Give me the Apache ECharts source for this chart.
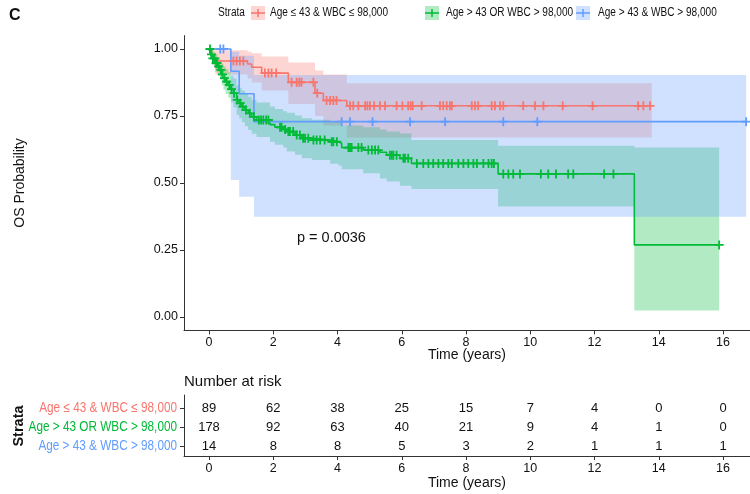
<!DOCTYPE html>
<html><head><meta charset="utf-8">
<script src="https://cdn.jsdelivr.net/npm/echarts@6/dist/echarts.min.js"></script>
<style>html,body{margin:0;padding:0;background:#fff}#c{width:750px;height:494px}</style>
</head><body><div id="c"></div>
<script>
// ---- data ----
const strataNames = ['Age ≤ 43 & WBC ≤ 98,000', 'Age > 43 OR WBC > 98,000', 'Age > 43 & WBC > 98,000'];
const lineColors = ['#F8766D', '#00BA38', '#619CFF'];

const redTime  = [0, 0.05, 0.10, 0.15, 0.20, 1.20, 1.33, 1.64, 2.47, 3.30, 3.56, 4.29];
const redSurv  = [1, 0.989, 0.978, 0.966, 0.955, 0.944, 0.932, 0.910, 0.876, 0.835, 0.808, 0.788];
const redLower = [1, 0.97, 0.95, 0.93, 0.905, 0.89, 0.875, 0.845, 0.795, 0.75, 0.715, 0.67];
const redUpper = [1, 1, 1, 1, 0.995, 0.99, 0.984, 0.972, 0.95, 0.92, 0.905, 0.872];
const redEnd = 13.78;
const redCensor = [0.76, 0.86, 0.96, 1.07, 1.74, 1.85, 1.95, 2.09, 2.57, 2.73, 2.81, 2.88, 3.25, 3.37, 3.66, 3.77, 3.87, 3.97,
  4.39, 4.49, 4.65, 4.86, 4.93, 5.01, 5.14, 5.32, 5.48, 5.84, 6.02, 6.20, 6.28, 6.34, 6.62, 7.19, 7.29, 7.40, 7.50, 7.56,
  8.18, 8.28, 8.38, 8.80, 8.90, 9.06, 9.16, 9.78, 10.15, 10.41, 11.01, 11.94, 13.36, 13.52, 13.73];

const greenTime  = [0, 0.05, 0.10, 0.19, 0.27, 0.34, 0.40, 0.45, 0.52, 0.60, 0.68, 0.76, 0.86, 0.94, 1.02, 1.12, 1.22, 1.33, 1.48, 1.90,
  2.05, 2.31, 2.42, 2.68, 2.89, 3.20, 3.77, 4.03, 4.13, 4.80, 5.32, 5.53, 5.94, 6.30, 9.00, 13.24];
const greenSurv  = [1, 0.98, 0.965, 0.947, 0.935, 0.922, 0.905, 0.891, 0.878, 0.866, 0.85, 0.835, 0.81, 0.798, 0.785, 0.772, 0.760, 0.747, 0.735, 0.718,
  0.708, 0.700, 0.692, 0.679, 0.667, 0.660, 0.654, 0.648, 0.632, 0.623, 0.615, 0.604, 0.592, 0.573, 0.534, 0.269];
const greenLower = [1, 0.96, 0.94, 0.915, 0.90, 0.885, 0.865, 0.848, 0.832, 0.818, 0.80, 0.782, 0.755, 0.742, 0.727, 0.712, 0.698, 0.684, 0.672, 0.654,
  0.643, 0.632, 0.618, 0.605, 0.592, 0.586, 0.572, 0.565, 0.551, 0.536, 0.517, 0.506, 0.490, 0.478, 0.412, 0.024];
const greenUpper = [1, 1, 0.99, 0.98, 0.97, 0.96, 0.945, 0.935, 0.925, 0.915, 0.90, 0.89, 0.865, 0.855, 0.845, 0.832, 0.822, 0.81, 0.80, 0.785,
  0.776, 0.768, 0.762, 0.752, 0.742, 0.736, 0.73, 0.725, 0.715, 0.708, 0.70, 0.692, 0.685, 0.66, 0.639, 0.632];
const greenEnd = 15.88;
const greenCensor = [0.03, 0.08, 0.12, 0.17, 0.22, 0.25, 0.30, 0.37, 0.42, 0.48, 0.55, 0.63, 0.70, 0.78, 0.88, 0.97, 1.05, 1.15, 1.27, 1.40,
  1.55, 1.62, 1.69, 1.78, 1.85, 2.21, 2.26, 2.37, 2.47, 2.52, 2.62, 2.73, 2.83, 2.93, 2.99, 3.09, 3.25, 3.35, 3.46, 3.60, 3.82, 3.87, 3.98,
  4.34, 4.39, 4.44, 4.65, 4.75, 4.96, 5.07, 5.17, 5.27, 5.63, 5.69, 5.74, 5.84, 6.05, 6.10, 6.20, 6.47, 6.67, 6.83, 6.98, 7.14, 7.29,
  7.45, 7.56, 7.76, 7.92, 8.07, 8.23, 8.34, 8.54, 8.70, 8.80, 8.87, 9.16, 9.32, 9.47, 9.68, 10.33, 10.56, 10.80, 11.18, 11.34,
  12.30, 12.59, 15.88];

const blueTime  = [0, 0.68, 0.94, 1.40];
const blueSurv  = [1, 0.917, 0.833, 0.729];
const blueLower = [1, 0.511, 0.449, 0.374];
const blueUpper = [1, 0.99, 0.975, 0.903];
const blueEnd = 16.72;
const blueCensor = [0.35, 0.45, 4.13, 4.39, 5.09, 6.26, 7.35, 9.16, 10.22, 16.72];

const xTicks = [0, 2, 4, 6, 8, 10, 12, 14, 16];
const yTicks = [0, 0.25, 0.5, 0.75, 1];
const riskTimes = [0, 2, 4, 6, 8, 10, 12, 14, 16];
const riskRed   = [89, 62, 38, 25, 15, 7, 4, 0, 0];
const riskGreen = [178, 92, 63, 40, 21, 9, 4, 1, 0];
const riskBlue  = [14, 8, 8, 5, 3, 2, 1, 1, 1];
const pText = 'p = 0.0036';

// ---- helpers ----
const FONT = "'Liberation Sans', Arial, sans-serif";
const NARROW_SCALE = 0.84;
function rgba(hex, a) {
  const n = parseInt(hex.slice(1), 16);
  return 'rgba(' + (n >> 16 & 255) + ',' + (n >> 8 & 255) + ',' + (n & 255) + ',' + a + ')';
}
function stepData(times, surv, end) {
  const d = times.map((t, i) => [t, surv[i]]);
  d.push([end, surv[surv.length - 1]]);
  return d;
}
function survAt(times, surv, t) {
  let k = 0;
  for (let i = 0; i < times.length; i++) if (times[i] <= t) k = i;
  return surv[k];
}
function bandSeries(times, lo, hi, end, color, z) {
  return {
    type: 'custom', xAxisIndex: 0, yAxisIndex: 0, silent: true, z: z, clip: true,
    data: [[0, 0]], encode: { x: 0, y: 1 },
    renderItem: function (params, api) {
      const up = [], dn = [];
      for (let i = 0; i < times.length; i++) {
        const t1 = i + 1 < times.length ? times[i + 1] : end;
        up.push(api.coord([times[i], hi[i]]), api.coord([t1, hi[i]]));
        dn.push(api.coord([times[i], lo[i]]), api.coord([t1, lo[i]]));
      }
      return { type: 'polygon', shape: { points: up.concat(dn.reverse()) }, style: { fill: rgba(color, 0.3), stroke: null } };
    }
  };
}
function lineSeries(times, surv, end, color) {
  return {
    type: 'line', xAxisIndex: 0, yAxisIndex: 0, step: 'end', data: stepData(times, surv, end),
    showSymbol: false, symbol: 'none', lineStyle: { color: color, width: 1.6 }, z: 5, silent: true
  };
}
const PLUS = 'path://M4,0H6V4H10V6H6V10H4V6H0V4H4Z';
function censorSeries(times, surv, cens, color) {
  return {
    type: 'scatter', xAxisIndex: 0, yAxisIndex: 0, symbol: PLUS, symbolSize: 9,
    itemStyle: { color: color, opacity: 1 }, z: 6, silent: true,
    data: cens.map(t => [t, survAt(times, surv, t)])
  };
}
const riskRows = [riskBlue, riskGreen, riskRed]; // rows 1,2,3 bottom->top
const riskData = [];
riskRows.forEach((arr, r) => arr.forEach((n, i) => riskData.push([riskTimes[i], r + 1, n])));
const rowLabelData = [[-0.778, 1, 2], [-0.778, 2, 1], [-0.778, 3, 0]]; // [x, row, strata index]

const axisLineStyle = { color: '#333', width: 1 };
const xAxisCommon = {
  type: 'value', min: -0.778, max: 16.84, splitLine: { show: false },
  axisLine: { show: true, lineStyle: axisLineStyle, onZero: false },
  axisTick: { show: true, length: 4, lineStyle: axisLineStyle, customValues: xTicks },
  axisLabel: { customValues: xTicks, color: '#111', fontSize: 12.5, fontFamily: FONT, margin: 6 }
};

const legendItems = [];
const keyX = [251, 425, 576], txtX = [270, 446, 598];
[0, 1, 2].forEach(i => {
  legendItems.push({ type: 'rect', shape: { x: keyX[i], y: 6, width: 14, height: 14 }, style: { fill: rgba(lineColors[i], 0.3) } });
  legendItems.push({ type: 'line', shape: { x1: keyX[i], y1: 13, x2: keyX[i] + 14, y2: 13 }, style: { stroke: lineColors[i], lineWidth: 1.5 } });
  legendItems.push({ type: 'line', shape: { x1: keyX[i] + 7, y1: 9, x2: keyX[i] + 7, y2: 17 }, style: { stroke: lineColors[i], lineWidth: 1.5 } });
  legendItems.push({ type: 'text', x: txtX[i], y: 13, scaleX: NARROW_SCALE, style: { text: strataNames[i], font: "12px " + FONT, fill: '#111', textAlign: 'left', textVerticalAlign: 'middle' } });
});

const option = {
  animation: false,
  textStyle: { fontFamily: FONT },
  grid: [
    { left: 184, right: 0, top: 35.6, height: 294.8, outerBoundsMode: 'none' },
    { left: 184, right: 0, top: 395, height: 61, outerBoundsMode: 'none' }
  ],
  xAxis: [
    Object.assign({ gridIndex: 0 }, xAxisCommon),
    Object.assign({ gridIndex: 1 }, xAxisCommon)
  ],
  yAxis: [
    {
      gridIndex: 0, type: 'value', min: -0.05, max: 1.05, splitLine: { show: false },
      axisLine: { show: true, lineStyle: axisLineStyle, onZero: false },
      axisTick: { show: true, length: 4, lineStyle: axisLineStyle, customValues: yTicks },
      axisLabel: { customValues: yTicks, formatter: v => v.toFixed(2), color: '#111', fontSize: 12.5, fontFamily: FONT, margin: 6 }
    },
    {
      gridIndex: 1, type: 'value', min: 0.474, max: 3.684, splitLine: { show: false },
      axisLine: { show: true, lineStyle: axisLineStyle, onZero: false },
      axisTick: { show: true, length: 4, lineStyle: axisLineStyle, customValues: [1, 2, 3] },
      axisLabel: { show: false }
    }
  ],
  series: [
    bandSeries(redTime, redLower, redUpper, redEnd, lineColors[0], 1),
    bandSeries(greenTime, greenLower, greenUpper, greenEnd, lineColors[1], 2),
    bandSeries(blueTime, blueLower, blueUpper, blueEnd, lineColors[2], 3),
    lineSeries(redTime, redSurv, redEnd, lineColors[0]),
    lineSeries(greenTime, greenSurv, greenEnd, lineColors[1]),
    lineSeries(blueTime, blueSurv, blueEnd, lineColors[2]),
    censorSeries(redTime, redSurv, redCensor, lineColors[0]),
    censorSeries(greenTime, greenSurv, greenCensor, lineColors[1]),
    censorSeries(blueTime, blueSurv, blueCensor, lineColors[2]),
    {
      type: 'custom', xAxisIndex: 1, yAxisIndex: 1, data: riskData, encode: { x: 0, y: 1 }, silent: true,
      renderItem: function (params, api) {
        const p = api.coord([api.value(0), api.value(1)]);
        return { type: 'text', x: p[0], y: p[1], style: { text: String(api.value(2)), font: '13px ' + FONT, fill: '#111', textAlign: 'center', textVerticalAlign: 'middle' } };
      }
    },
    {
      type: 'custom', xAxisIndex: 1, yAxisIndex: 1, data: rowLabelData, encode: { x: 0, y: 1 }, silent: true, clip: false,
      renderItem: function (params, api) {
        const p = api.coord([api.value(0), api.value(1)]);
        const k = api.value(2);
        return { type: 'text', x: p[0] - 7, y: p[1], scaleX: NARROW_SCALE, style: { text: strataNames[k], font: '14px ' + FONT, fill: lineColors[k], textAlign: 'right', textVerticalAlign: 'middle' } };
      }
    }
  ],
  graphic: [
    { type: 'text', x: 9, y: 16, style: { text: 'C', font: 'bold 16px ' + FONT, fill: '#111', textAlign: 'left', textVerticalAlign: 'middle' } },
    { type: 'text', x: 218, y: 13, scaleX: NARROW_SCALE, style: { text: 'Strata', font: '12px ' + FONT, fill: '#111', textAlign: 'left', textVerticalAlign: 'middle' } },
    ...legendItems,
    { type: 'text', x: 20, y: 183, rotation: Math.PI / 2, style: { text: 'OS Probability', font: '14px ' + FONT, fill: '#111', textAlign: 'center', textVerticalAlign: 'middle' } },
    { type: 'text', x: 467, y: 355, style: { text: 'Time (years)', font: '14px ' + FONT, fill: '#111', textAlign: 'center', textVerticalAlign: 'middle' } },
    { type: 'text', x: 297, y: 238, style: { text: pText, font: '14.5px ' + FONT, fill: '#111', textAlign: 'left', textVerticalAlign: 'middle' } },
    { type: 'text', x: 184, y: 382, style: { text: 'Number at risk', font: '15px ' + FONT, fill: '#111', textAlign: 'left', textVerticalAlign: 'middle' } },
    { type: 'text', x: 19, y: 426, rotation: Math.PI / 2, style: { text: 'Strata', font: 'bold 14.5px ' + FONT, fill: '#111', textAlign: 'center', textVerticalAlign: 'middle' } },
    { type: 'text', x: 467, y: 483, style: { text: 'Time (years)', font: '14px ' + FONT, fill: '#111', textAlign: 'center', textVerticalAlign: 'middle' } }
  ]
};
const chart = echarts.init(document.getElementById('c'), null, { renderer: 'canvas' });
chart.setOption(option);
</script>
</body></html>
